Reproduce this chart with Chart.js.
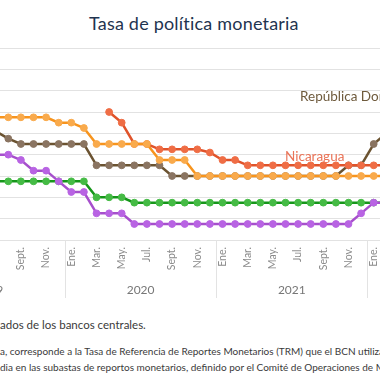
<!DOCTYPE html>
<html>
<head>
<meta charset="utf-8">
<script src="https://cdn.jsdelivr.net/npm/chart.js@4"></script>
<style>
  html, body { margin: 0; padding: 0; background: #fff; }
  body { width: 380px; height: 380px; overflow: hidden; position: relative; font-family: "Lato", "Open Sans", sans-serif; }
  #title { position: absolute; top: 12px; left: 89px; font-size: 18px; color: #1f3450; white-space: nowrap; letter-spacing: 0.2px; }
  #wrap { position: absolute; left: 0; top: 0; width: 380px; height: 300px; }
  .note { position: absolute; left: 0; white-space: nowrap; color: #3a3a3a; }
  .pre { position: absolute; right: 100%; }
  #src { top: 318px; font-size: 11.5px; }
  #n1 { top: 345px; font-size: 10px; }
  #n2 { top: 361px; font-size: 10px; }
</style>
</head>
<body>
<div id="title">Tasa de política monetaria</div>
<div id="wrap"><canvas id="c" width="380" height="300"></canvas></div>
<div class="note" id="src"><span class="pre">Fuente: SECMCA con datos public</span>ados de los bancos centrales.</div>
<div class="note" id="n1"><span class="pre">Nota: en el caso de Nicaragu</span>a, corresponde a la Tasa de Referencia de Reportes Monetarios (TRM) que el BCN utiliza como referencia</div>
<div class="note" id="n2"><span class="pre">la tasa de interés prome</span>dia en las subastas de reportos monetarios, definido por el Comité de Operaciones de Mercado Abierto.</div>
<script>
// ---- data (monthly, Jul 2019 .. Feb 2022) ----
const categories = [
  "2019-07","2019-08","2019-09","2019-10","2019-11","2019-12",
  "2020-01","2020-02","2020-03","2020-04","2020-05","2020-06","2020-07","2020-08","2020-09","2020-10","2020-11","2020-12",
  "2021-01","2021-02","2021-03","2021-04","2021-05","2021-06","2021-07","2021-08","2021-09","2021-10","2021-11","2021-12",
  "2022-01","2022-02"
];
const monthNames = ["Ene.","Feb.","Mar.","Abr.","May.","Jun.","Jul.","Ago.","Sept.","Oct.","Nov.","Dic."];
const honduras = [5.75,5.75,5.75,5.75,5.75,5.5,5.5,5.25,4.5,4.5,4.5,4.5,4.5,3.75,3.75,3.75,
  3.0,3.0,3.0,3.0,3.0,3.0,3.0,3.0,3.0,3.0,3.0,3.0,3.0,3.0,3.0,3.0];
const nicaragua = [null,null,null,null,null,null,null,null,null,6.0,5.5,4.5,4.5,4.25,4.25,4.25,4.25,4.1,3.75,3.75,
  3.5,3.5,3.5,3.5,3.5,3.5,3.5,3.5,3.5,3.5,3.5,3.5];
const repDominicana = [5.1,4.75,4.5,4.5,4.5,4.5,4.5,4.5,3.5,3.5,3.5,3.5,3.5,3.5,
  3.0,3.0,3.0,3.0,3.0,3.0,3.0,3.0,3.0,3.0,3.0,3.0,3.0,3.0,3.5,3.5,4.5,5.0];
const guatemala = [2.75,2.75,2.75,2.75,2.75,2.75,2.75,2.75,2.0,2.0,2.0,
  1.75,1.75,1.75,1.75,1.75,1.75,1.75,1.75,1.75,1.75,1.75,1.75,1.75,1.75,1.75,1.75,1.75,1.75,1.75,1.75,1.75];
const costaRica = [4.0,4.0,3.75,3.25,3.25,2.75,2.25,2.25,1.25,1.25,1.25,
  0.75,0.75,0.75,0.75,0.75,0.75,0.75,0.75,0.75,0.75,0.75,0.75,0.75,0.75,0.75,0.75,0.75,0.75,1.25,1.75,1.75];
const yTicks = [0,1,2,3,4,5,6,7,8,9];
const lineLabels = [
  {text: "República Dominicana", atIndex: 24.15, atValue: 6.74, color: "#6e5a3c"},
  {text: "Nicaragua", atIndex: 22.96, atValue: 3.93, color: "#ea7458"}
];

const toPts = arr => arr.map((v, i) => ({x: i, y: v}));
const series = [
  {label: "Honduras", data: honduras, line: "#f7941d", fill: "#f9aa4c", order: 1},
  {label: "Nicaragua", data: nicaragua, line: "#e0532a", fill: "#ef6d45", order: 2},
  {label: "República Dominicana", data: repDominicana, line: "#6b5331", fill: "#8a7461", order: 3},
  {label: "Costa Rica", data: costaRica, line: "#a64fcc", fill: "#b863e3", order: 4},
  {label: "Guatemala", data: guatemala, line: "#16961a", fill: "#45bb45", order: 5}
];

const tickIdx = categories.map((c, i) => i).filter(i => (parseInt(categories[i].slice(5)) % 2) === 1);

const yearPlugin = {
  id: "years",
  afterDraw(chart) {
    const ctx = chart.ctx, xs = chart.scales.x, ca = chart.chartArea;
    ctx.save();
    const janIdx = categories.map((c, i) => i).filter(i => categories[i].slice(5) === "01");
    const bounds = janIdx.map(i => i - 0.5);
    ctx.strokeStyle = "#e3e3e3"; ctx.lineWidth = 1;
    bounds.forEach(b => {
      const px = Math.round(xs.getPixelForValue(b)) + 0.5;
      ctx.beginPath(); ctx.moveTo(px, ca.bottom); ctx.lineTo(px, ca.bottom + 58); ctx.stroke();
    });
    ctx.fillStyle = "#777"; ctx.font = "12px Lato"; ctx.textAlign = "center"; ctx.textBaseline = "middle";
    const firstYear = parseInt(categories[0].slice(0, 4));
    const edges = [bounds[0] - 12].concat(bounds).concat([bounds[bounds.length - 1] + 12]);
    for (let j = 0; j < edges.length - 1; j++) {
      const mid = (edges[j] + edges[j + 1]) / 2;
      ctx.fillText(String(firstYear + j), xs.getPixelForValue(mid), ca.bottom + 50);
    }
    const ys = chart.scales.y;
    ctx.font = "13.5px Lato"; ctx.textAlign = "left";
    lineLabels.forEach(l => {
      ctx.fillStyle = l.color;
      ctx.fillText(l.text, xs.getPixelForValue(l.atIndex), ys.getPixelForValue(l.atValue));
    });
    ctx.restore();
  }
};

new Chart(document.getElementById("c"), {
  type: "line",
  data: {
    datasets: series.map(s => ({
      label: s.label,
      data: toPts(s.data),
      borderColor: s.line,
      backgroundColor: s.fill,
      pointBackgroundColor: s.fill,
      pointBorderColor: s.fill,
      pointBorderWidth: 1,
      pointRadius: 3.4,
      borderWidth: 2.5,
      tension: 0,
      order: s.order,
      spanGaps: false
    }))
  },
  options: {
    responsive: false,
    animation: false,
    devicePixelRatio: 1,
    layout: {autoPadding: false, padding: {top: 48, left: 0, right: 0, bottom: 0}},
    plugins: {legend: {display: false}, tooltip: {enabled: false}, title: {display: false}},
    scales: {
      x: {
        type: "linear",
        min: 0.341,
        max: 30.5,
        grid: {display: false, drawTicks: false},
        border: {display: false},
        afterBuildTicks: s => { s.ticks = tickIdx.map(v => ({value: v})); },
        afterFit: s => { s.height = 60; s.paddingLeft = 0; s.paddingRight = 0; },
        ticks: {
          autoSkip: false,
          minRotation: 90, maxRotation: 90,
          padding: 7,
          color: "#8a8a8a",
          font: {family: "Lato", size: 10.5},
          callback: v => monthNames[parseInt(categories[v].slice(5)) - 1]
        }
      },
      y: {
        min: 0, max: 9,
        afterBuildTicks: s => { s.ticks = yTicks.map(v => ({value: v})); },
        afterFit: s => { s.width = 0; s.paddingTop = 0; s.paddingBottom = 0; },
        ticks: {display: false},
        grid: {color: "#e2e2e2", lineWidth: 1, drawTicks: false},
        border: {display: false}
      }
    }
  },
  plugins: [yearPlugin]
});
</script>
</body>
</html>
